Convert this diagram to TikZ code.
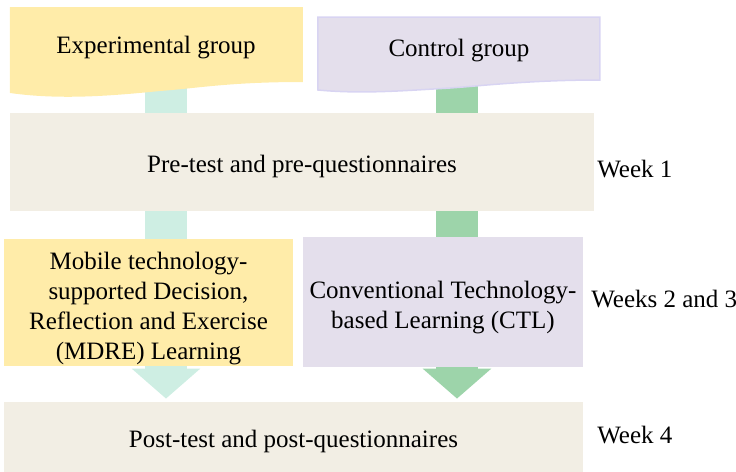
\documentclass[tikz,border=0pt]{standalone}
\usepackage{fontspec}
\setmainfont{Liberation Serif}
\usetikzlibrary{arrows.meta,backgrounds}

\definecolor{expyellow}{HTML}{FFECA9}
\definecolor{ctlviolet}{HTML}{E4DFEC}
\definecolor{ctlborder}{HTML}{D8D4F2}
\definecolor{testbeige}{HTML}{F2EEE4}
\definecolor{expmint}{HTML}{CEEEE3}
\definecolor{ctlgreen}{HTML}{9DD4AA}

\tikzset{
  txt/.style={font=\fontsize{12.5}{15}\selectfont, align=center, inner sep=0pt},
  box/.style={txt, minimum width=#1},
  boxtext/.style={label={[txt, yshift=-3pt]center:{#1}}},
  stem/.style={line width=21pt},
  head/.style={stem, -{Triangle[width=33.5pt,length=15pt]}, shorten >=1.5pt}
}

\begin{document}
\begin{tikzpicture}[x=0.5pt,y=-0.5pt]
  \useasboundingbox (0,0) rectangle (736,472);

  % Group shapes (wavy bottom)
  \fill[expyellow] (10,7) -- (303,7) -- (303,82)
    .. controls (230,82) and (200,88) .. (160,91)
    .. controls (110,96) and (60,100) .. (10,93) -- cycle;
  \filldraw[fill=ctlviolet, draw=ctlborder, line width=0.75pt] (318,17) -- (600,17) -- (600,80)
    .. controls (530,80) and (480,86) .. (450,88)
    .. controls (400,91) and (360,94) .. (318,90) -- cycle;
  \node[txt] (exp) at (156,48) {Experimental group};
  \node[txt] (ctl) at (459,51) {Control group};

  % Tests and treatments
  \node[box=292pt, minimum height=49pt, fill=testbeige, text height=10pt, text depth=0pt] (pre) at (302,162) {Pre-test and pre-questionnaires};
  \node[box=144.5pt, minimum height=63.5pt, fill=expyellow,
    boxtext={Mobile technology-\\supported Decision,\\Reflection and Exercise\\(MDRE) Learning}] (mdre) at (148.5,302.5) {};
  \node[box=140pt, minimum height=65pt, fill=ctlviolet,
    boxtext={Conventional Technology-\\based Learning (CTL)}] (ctlmid) at (443,302) {};
  \node[box=289.5pt, minimum height=35pt, fill=testbeige, text height=10pt, text depth=0pt] (post) at (293.5,437) {Post-test and post-questionnaires};

  % Weeks
  \node[txt, anchor=base west] (w1) at (597,177) {Week 1};
  \node[txt, anchor=base west] (w23) at (591,307) {Weeks 2 and 3};
  \node[txt, anchor=base west] (w4) at (597,443) {Week 4};

  % Block arrows behind the boxes
  \coordinate (colA) at (166,0);
  \coordinate (colB) at (457,0);
  \begin{scope}[on background layer]
    \draw[stem, expmint] (exp -| colA) -- (pre -| colA);
    \draw[stem, ctlgreen] (ctl -| colB) -- (pre -| colB);
    \draw[head, expmint] (pre -| colA) -- (post.north -| colA);
    \draw[head, ctlgreen] (pre -| colB) -- (post.north -| colB);
  \end{scope}

\end{tikzpicture}
\end{document}
